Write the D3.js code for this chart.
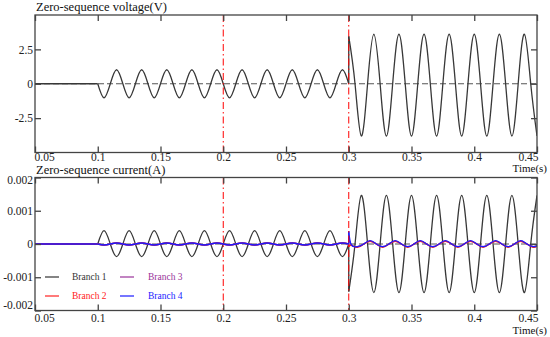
<!DOCTYPE html>
<html>
<head>
<meta charset="utf-8">
<script src="https://cdn.jsdelivr.net/npm/d3@7"></script>
<style>
  body { margin: 0; background: #fff; }
</style>
</head>
<body>
<script>
// ---- data (turning points and zero crossings) ----
var xTicks = [0.05, 0.1, 0.15, 0.2, 0.25, 0.3, 0.35, 0.4, 0.45];
var xTickLabels = ["0.05", "0.1", "0.15", "0.2", "0.25", "0.3", "0.35", "0.4", "0.45"];
var voltTicks = [-2.5, 0, 2.5];
var voltTickLabels = ["-2.5", "0", "2.5"];
var currTicks = [-0.002, -0.001, 0, 0.001, 0.002];
var currTickLabels = ["-0.002", "-0.001", "0", "0.001", "0.002"];
var markerTimes = [0.2, 0.3];

var preTimes = [0.05, 0.1];
var preValues = [0, 0];

// first stage (single-phase earth fault), quarter-cycle points
var stage1Times = [0.1, 0.105, 0.11, 0.115, 0.12, 0.125, 0.13, 0.135, 0.14, 0.145,
  0.15, 0.155, 0.16, 0.165, 0.17, 0.175, 0.18, 0.185, 0.19, 0.195,
  0.2, 0.205, 0.21, 0.215, 0.22, 0.225, 0.23, 0.235, 0.24, 0.245,
  0.25, 0.255, 0.26, 0.265, 0.27, 0.275, 0.28, 0.285, 0.29, 0.295, 0.3];
var voltStage1 = [0, -1.02, 0, 1.02, 0, -1.02, 0, 1.02, 0, -1.02, 0, 1.02, 0, -1.02, 0, 1.02,
  0, -1.02, 0, 1.02, 0, -1.02, 0, 1.02, 0, -1.02, 0, 1.02, 0, -1.02, 0, 1.02,
  0, -1.02, 0, 1.02, 0, -1.02, 0, 1.02, 0];
var branch1Stage1 = [0, 0.0004, 0, -0.00038, 0, 0.0004, 0, -0.00038, 0, 0.0004, 0, -0.00038,
  0, 0.0004, 0, -0.00038, 0, 0.0004, 0, -0.00038, 0, 0.0004, 0, -0.00038,
  0, 0.0004, 0, -0.00038, 0, 0.0004, 0, -0.00038, 0, 0.0004, 0, -0.00038,
  0, 0.0004, 0, -0.00038, 0];
var smallStage1 = [0, -0.00003, 0, 0.00003, 0, -0.00003, 0, 0.00003, 0, -0.00003, 0, 0.00003,
  0, -0.00003, 0, 0.00003, 0, -0.00003, 0, 0.00003, 0, -0.00003, 0, 0.00003,
  0, -0.00003, 0, 0.00003, 0, -0.00003, 0, 0.00003, 0, -0.00003, 0, 0.00003,
  0, -0.00003, 0, 0.00003, 0];

// second stage (after 0.3 s)
var stage2Times = [0.3, 0.305, 0.31, 0.315, 0.32, 0.325, 0.33, 0.335, 0.34, 0.345,
  0.35, 0.355, 0.36, 0.365, 0.37, 0.375, 0.38, 0.385, 0.39, 0.395,
  0.4, 0.405, 0.41, 0.415, 0.42, 0.425, 0.43, 0.435, 0.44, 0.445, 0.45];
var voltStage2 = [3.45, 0, -3.8, 0, 3.6, 0, -3.8, 0, 3.6, 0, -3.8, 0, 3.6, 0, -3.8, 0,
  3.6, 0, -3.8, 0, 3.6, 0, -3.8, 0, 3.6, 0, -3.8, 0, 3.6, 0, -3.8];
var branch1Stage2 = [-0.00143, 0, 0.00146, 0, -0.00146, 0, 0.00146, 0, -0.00146, 0, 0.00146, 0,
  -0.00146, 0, 0.00146, 0, -0.00146, 0, 0.00146, 0, -0.00146, 0, 0.00146, 0,
  -0.00146, 0, 0.00146, 0, -0.00146, 0, 0.00146];

var smallTimes2 = [0.3, 0.302, 0.307, 0.312, 0.317, 0.322, 0.327, 0.332, 0.337, 0.342,
  0.347, 0.352, 0.357, 0.362, 0.367, 0.372, 0.377, 0.382, 0.387, 0.392,
  0.397, 0.402, 0.407, 0.412, 0.417, 0.422, 0.427, 0.432, 0.437, 0.442, 0.447, 0.45];
var branch2Stage2 = [-0.00008, -0.00004, -0.0001, 0, 0.00008, 0, -0.0001, 0, 0.00008, 0,
  -0.0001, 0, 0.00008, 0, -0.0001, 0, 0.00008, 0, -0.0001, 0, 0.00008, 0,
  -0.0001, 0, 0.00008, 0, -0.0001, 0, 0.00008, 0, -0.0001, -0.00007];
var branch3Stage2 = [0.0002, -0.00002, -0.00008, 0, 0.00009, 0, -0.00008, 0, 0.00009, 0,
  -0.00008, 0, 0.00009, 0, -0.00008, 0, 0.00009, 0, -0.00008, 0, 0.00009, 0,
  -0.00008, 0, 0.00009, 0, -0.00008, 0, 0.00009, 0, -0.00008, -0.00005];
var branch4Stage2 = [0.00038, -0.00002, -0.00008, 0, 0.0001, 0, -0.00008, 0, 0.0001, 0,
  -0.00008, 0, 0.0001, 0, -0.00008, 0, 0.0001, 0, -0.00008, 0, 0.0001, 0,
  -0.00008, 0, 0.0001, 0, -0.00008, 0, 0.0001, 0, -0.00008, -0.00005];

var legendNames = ["Branch 1", "Branch 2", "Branch 3", "Branch 4"];
var legendColors = ["#333333", "#ff2020", "#993399", "#1a1aff"];

// ---- layout ----
var width = 550, height = 337;
var serif = "Liberation Serif";
var svg = d3.select("body").append("svg")
    .attr("width", width)
    .attr("height", height)
    .attr("font-family", serif);

var x = d3.scaleLinear().domain([0.05, 0.45]).range([35, 537]);

function seg(times, values) { return d3.zip(times, values); }

var panels = [
  {
    id: "v", title: "Zero-sequence voltage(V)", top: 15, bottom: 152.5, domain: [-5, 5],
    titleY: 11, labelPad: 0.5, timeY: 172,
    yTicks: voltTicks, yLabels: voltTickLabels,
    series: [
      {color: "#383838", segs: [seg(preTimes, preValues), seg(stage1Times, voltStage1), seg(stage2Times, voltStage2)]}
    ]
  },
  {
    id: "i", title: "Zero-sequence current(A)", top: 177.5, bottom: 310.5, domain: [-0.002, 0.002],
    titleY: 174, labelPad: 3.5, timeY: 334,
    yTicks: currTicks, yLabels: currTickLabels,
    series: [
      {color: "#383838", segs: [seg(preTimes, preValues), seg(stage1Times, branch1Stage1), seg(stage2Times, branch1Stage2)]},
      {color: legendColors[2], segs: [seg(preTimes, preValues), seg(stage1Times, smallStage1), seg(smallTimes2, branch3Stage2)]},
      {color: legendColors[1], segs: [seg(preTimes, preValues), seg(stage1Times, smallStage1), seg(smallTimes2, branch2Stage2)]},
      {color: legendColors[3], segs: [seg(preTimes, preValues), seg(stage1Times, smallStage1), seg(smallTimes2, branch4Stage2)]}
    ]
  }
];

panels.forEach(function(p) {
  var y = d3.scaleLinear().domain(p.domain).range([p.bottom, p.top]);
  var g = svg.append("g");

  g.append("clipPath").attr("id", "clip-" + p.id)
    .append("rect")
    .attr("x", x.range()[0]).attr("y", p.top)
    .attr("width", x.range()[1] - x.range()[0])
    .attr("height", p.bottom - p.top);

  // zero reference line
  g.append("line")
    .attr("x1", x.range()[0]).attr("x2", x.range()[1])
    .attr("y1", y(0)).attr("y2", y(0))
    .attr("stroke", "#555").attr("stroke-width", 1)
    .attr("stroke-dasharray", "6,3");

  var line = d3.line()
    .x(function(d) { return x(d[0]); })
    .y(function(d) { return y(d[1]); })
    .curve(d3.curveNatural);
  var straight = d3.line()
    .x(function(d) { return x(d[0]); })
    .y(function(d) { return y(d[1]); });

  var plot = g.append("g").attr("clip-path", "url(#clip-" + p.id + ")");
  p.series.forEach(function(s) {
    s.segs.forEach(function(pts, k) {
      if (k > 0) {
        var prev = s.segs[k - 1][s.segs[k - 1].length - 1];
        plot.append("path")
          .attr("fill", "none").attr("stroke", s.color).attr("stroke-width", 1.3)
          .attr("d", straight([prev, pts[0]]));
      }
      plot.append("path")
        .attr("fill", "none").attr("stroke", s.color).attr("stroke-width", 1.3)
        .attr("d", line(pts));
    });
  });

  // red dash-dot markers
  g.selectAll(".marker").data(markerTimes).enter().append("line")
    .attr("x1", function(d) { return x(d); }).attr("x2", function(d) { return x(d); })
    .attr("y1", p.top).attr("y2", p.bottom)
    .attr("stroke", "#ff0000").attr("stroke-width", 1)
    .attr("stroke-dasharray", "7,3,1.5,3");

  // frame
  g.append("rect")
    .attr("x", x.range()[0]).attr("y", p.top)
    .attr("width", x.range()[1] - x.range()[0])
    .attr("height", p.bottom - p.top)
    .attr("fill", "none").attr("stroke", "#444").attr("stroke-width", 1.3);

  // axes with inward ticks
  var xb = g.append("g").attr("transform", "translate(0," + p.bottom + ")")
    .call(d3.axisBottom(x).tickValues(xTicks).tickFormat(function(d, i) { return xTickLabels[i]; })
      .tickSize(-6).tickSizeOuter(0).tickPadding(p.labelPad));
  var xt = g.append("g").attr("transform", "translate(0," + p.top + ")")
    .call(d3.axisTop(x).tickValues(xTicks).tickFormat("").tickSize(-6).tickSizeOuter(0));
  var yl = g.append("g").attr("transform", "translate(" + x.range()[0] + ",0)")
    .call(d3.axisLeft(y).tickValues(p.yTicks).tickFormat(function(d, i) { return p.yLabels[i]; })
      .tickSize(-6).tickSizeOuter(0).tickPadding(2));
  var yr = g.append("g").attr("transform", "translate(" + x.range()[1] + ",0)")
    .call(d3.axisRight(y).tickValues(p.yTicks).tickFormat("").tickSize(-6).tickSizeOuter(0));

  [xb, xt, yl, yr].forEach(function(a) {
    a.attr("font-family", serif).attr("font-size", 11.5);
    a.select(".domain").remove();
    a.selectAll("line").attr("stroke", "#444").attr("stroke-width", 1.3);
    a.selectAll("text").attr("fill", "#222");
  });

  // keep end labels inside the frame
  var xl = xb.selectAll("text");
  xl.filter(function(d, i) { return i === 0; }).attr("text-anchor", "start").attr("x", -1);
  xl.filter(function(d, i) { return i === xTicks.length - 1; }).attr("text-anchor", "end").attr("x", 1);
  if (p.id === "i") {
    var ylt = yl.selectAll("text");
    ylt.filter(function(d, i) { return i === 0; }).attr("dy", "-0.15em");
    ylt.filter(function(d, i) { return i === p.yTicks.length - 1; }).attr("dy", "0.55em");
  }

  g.append("text")
    .attr("x", 36).attr("y", p.titleY)
    .attr("font-size", 12.5).attr("fill", "#111")
    .text(p.title);

  g.append("text")
    .attr("x", 547).attr("y", p.timeY)
    .attr("text-anchor", "end")
    .attr("font-size", 11).attr("fill", "#111")
    .text("Time(s)");
});

// legend in the current panel
var legendPos = [[45, 277], [45, 296], [120, 277], [120, 296]];
var legend = svg.append("g").selectAll("g").data(legendNames).enter().append("g")
  .attr("transform", function(d, i) { return "translate(" + legendPos[i][0] + "," + legendPos[i][1] + ")"; });
legend.append("line")
  .attr("x1", 0).attr("x2", 14).attr("y1", 0).attr("y2", 0)
  .attr("stroke", function(d, i) { return legendColors[i]; })
  .attr("stroke-width", 1.2);
legend.append("text")
  .attr("x", function(d, i) { return i < 2 ? 27 : 28; }).attr("y", 3)
  .attr("font-size", 9.5)
  .attr("fill", function(d, i) { return legendColors[i]; })
  .text(function(d) { return d; });
</script>
</body>
</html>
